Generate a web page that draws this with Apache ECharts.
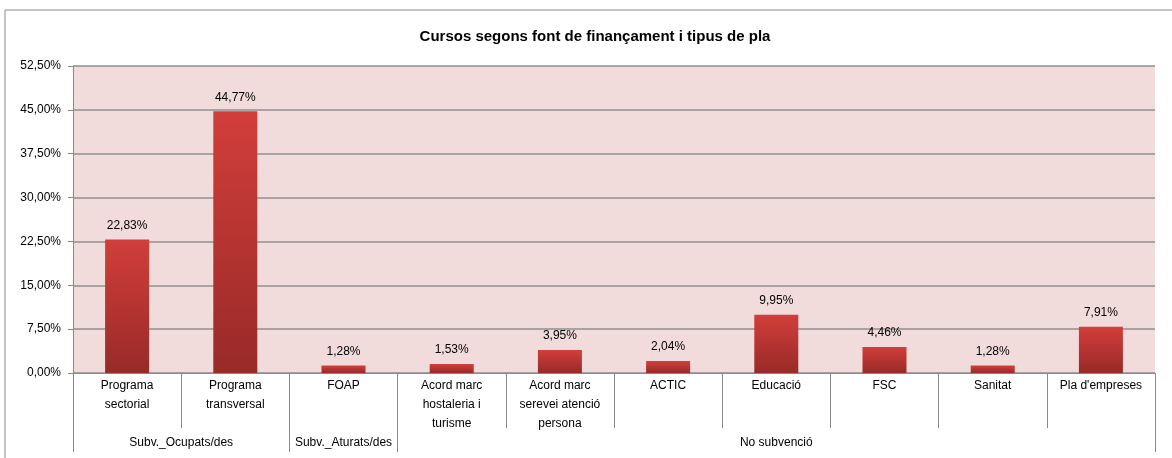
<!DOCTYPE html>
<html>
<head>
<meta charset="utf-8">
<script src="https://cdn.jsdelivr.net/npm/echarts@6/dist/echarts.min.js"></script>
<style>
html, body { margin: 0; padding: 0; background: #fff; }
#chart { width: 1172px; height: 458px; }
</style>
</head>
<body>
<div id="chart"></div>
<script>
var categories = [
    "Programa\nsectorial", "Programa\ntransversal", "FOAP",
    "Acord marc\nhostaleria i\nturisme", "Acord marc\nserevei atenció\npersona",
    "ACTIC", "Educació", "FSC", "Sanitat", "Pla d'empreses"
];
var values = [22.83, 44.77, 1.28, 1.53, 3.95, 2.04, 9.95, 4.46, 1.28, 7.91];
var groupNames = ["Subv._Ocupats/des", "Subv._Aturats/des", "No subvenció"];
var groupSizes = [2, 1, 7];
var yTicks = { min: 0, max: 52.5, step: 7.5 };

(function (window) {
    "use strict";
    var fmt = function (v) {
        return v.toFixed(2).replace(".", ",") + "%";
    };

    // group boundaries and centres along the category count
    var bounds = [0];
    var centres = [];
    groupSizes.forEach(function (n) {
        var start = bounds[bounds.length - 1];
        centres.push(start + n / 2);
        bounds.push(start + n);
    });
    var catBounds = [];
    for (var i = 0; i <= categories.length; i++) catBounds.push(i);

    var font = "'Liberation Sans', Arial, sans-serif";
    var option = {
        animation: false,
        textStyle: { fontFamily: font },
        title: {
            text: "Cursos segons font de finançament i tipus de pla",
            left: 590, top: 24, textAlign: "center",
            textStyle: { fontSize: 15, fontWeight: "bold", color: "#000", fontFamily: font }
        },
        graphic: [{
            type: "rect",
            shape: { x: 5, y: 10, width: 1200, height: 500 },
            style: { fill: "none", stroke: "#8a8a8a", lineWidth: 1 },
            silent: true, z: -1
        }],
        grid: {
            left: 73, right: 17, top: 66, bottom: 85,
            show: true, backgroundColor: "#f2dcdb", borderWidth: 0
        },
        xAxis: [{
            type: "category",
            data: categories,
            axisLine: { lineStyle: { color: "#8a8a8a", width: 1 } },
            axisTick: { show: false },
            axisLabel: {
                interval: 0, color: "#000", fontSize: 12, lineHeight: 19,
                margin: 3, fontFamily: font
            }
        }, {
            // category divider ticks
            type: "value",
            position: "bottom",
            min: 0, max: categories.length,
            axisLine: { show: false },
            splitLine: { show: false },
            axisTick: {
                show: true, length: 55,
                customValues: catBounds,
                lineStyle: { color: "#8a8a8a" }
            },
            axisLabel: { show: false }
        }, {
            // group level
            type: "value",
            position: "bottom",
            min: 0, max: categories.length,
            axisLine: { show: false },
            splitLine: { show: false },
            axisTick: {
                show: true, length: 79,
                customValues: bounds,
                lineStyle: { color: "#8a8a8a" }
            },
            axisLabel: {
                customValues: centres,
                margin: 64, color: "#000", fontSize: 12, fontFamily: font,
                hideOverlap: false,
                formatter: function (v) {
                    var i = centres.indexOf(v);
                    return i >= 0 ? groupNames[i] : "";
                }
            }
        }],
        yAxis: {
            type: "value",
            min: yTicks.min, max: yTicks.max, interval: yTicks.step,
            axisLine: { show: true, lineStyle: { color: "#8a8a8a" } },
            axisTick: { show: true, length: 5, lineStyle: { color: "#8a8a8a" } },
            splitLine: { lineStyle: { color: "#8f8f8f", width: 1.5 } },
            axisLabel: {
                color: "#000", fontSize: 12, margin: 12, fontFamily: font,
                formatter: fmt
            }
        },
        series: [{
            type: "bar",
            data: values,
            barWidth: 44,
            itemStyle: {
                color: new echarts.graphic.LinearGradient(0, 0, 0, 1, [
                    { offset: 0, color: "#d23e3b" },
                    { offset: 1, color: "#982a28" }
                ])
            },
            label: {
                show: true, position: "top", distance: 8,
                color: "#000", fontSize: 12, fontFamily: font,
                formatter: function (p) { return fmt(p.value); }
            }
        }]
    };

    var chart;
    var load = function () {
        chart = echarts.init(document.getElementById("chart"));
        chart.setOption(option);
    };
    window.addEventListener("load", load, false);
})(window);
</script>
</body>
</html>
